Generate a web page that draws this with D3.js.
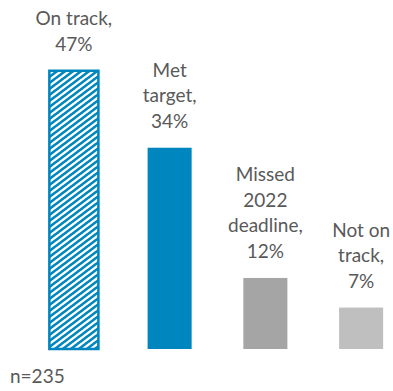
<!DOCTYPE html>
<html>
<head>
<meta charset="utf-8">
<script src="https://cdn.jsdelivr.net/npm/d3@7"></script>
<style>
  html, body { margin: 0; padding: 0; background: #fff; }
  svg { display: block; font-family: Lato, "Open Sans", sans-serif; }
</style>
</head>
<body>
<svg id="chart" width="393" height="391"></svg>
<script>
// Status of targets (share of companies)
const categories = ["On track", "Met target", "Missed 2022 deadline", "Not on track"];
const values = [47, 34, 12, 7];
const labelLines = [
  ["On track,", "47%"],
  ["Met", "target,", "34%"],
  ["Missed", "2022", "deadline,", "12%"],
  ["Not on", "track,", "7%"]
];
const sampleNote = "n=235";

const blue = "#0086BF";
const fills = ["url(#hatch)", blue, "#A5A5A5", "#BFBFBF"];
const textColor = "#595959";

const svg = d3.select("#chart");
const baseline = 349;

const x = d3.scaleBand()
  .domain(categories)
  .range([26, 409])
  .paddingInner(0.54)
  .paddingOuter(0.27);

const y = d3.scaleLinear()
  .domain([0, 50])
  .range([baseline, baseline - 296]);

// Upward diagonal hatch (lines x/w + y/h = k)
const tw = 8, th = 6;
const defs = svg.append("defs");
const pat = defs.append("pattern")
  .attr("id", "hatch")
  .attr("patternUnits", "userSpaceOnUse")
  .attr("width", tw)
  .attr("height", th);
pat.append("rect").attr("width", tw).attr("height", th).attr("fill", "#fff");
pat.append("path")
  .attr("d", `M${-tw / 4},${th / 4} L${tw / 4},${-th / 4} M0,${th} L${tw},0 M${3 * tw / 4},${5 * th / 4} L${5 * tw / 4},${3 * th / 4}`)
  .attr("stroke", blue)
  .attr("stroke-width", 2.6);

const bars = svg.append("g");
bars.selectAll("rect")
  .data(categories)
  .join("rect")
  .attr("x", (d, i) => i === 0 ? x(d) - 2.5 : x(d))
  .attr("width", (d, i) => i === 0 ? x.bandwidth() + 5 : x.bandwidth())
  .attr("y", (d, i) => y(values[i]))
  .attr("height", (d, i) => y(0) - y(values[i]))
  .attr("fill", (d, i) => fills[i])
  .attr("stroke", (d, i) => i === 0 ? blue : "none")
  .attr("stroke-width", 2.5);

// Multi-line value labels above each bar
const lineH = 25.5;
const gap = 20;
const labels = svg.append("g")
  .attr("fill", textColor)
  .attr("font-size", 19)
  .attr("text-anchor", "middle");

labels.selectAll("text")
  .data(categories)
  .join("text")
  .attr("x", d => x(d) + x.bandwidth() / 2)
  .each(function(d, i) {
    const lines = labelLines[i];
    const lastBase = y(values[i]) - gap;
    d3.select(this).selectAll("tspan")
      .data(lines)
      .join("tspan")
      .attr("x", x(d) + x.bandwidth() / 2)
      .attr("y", (t, j) => lastBase - (lines.length - 1 - j) * lineH)
      .text(t => t);
  });

svg.append("text")
  .attr("x", 10)
  .attr("y", 383)
  .attr("fill", textColor)
  .attr("font-size", 19)
  .text(sampleNote);
</script>
</body>
</html>
